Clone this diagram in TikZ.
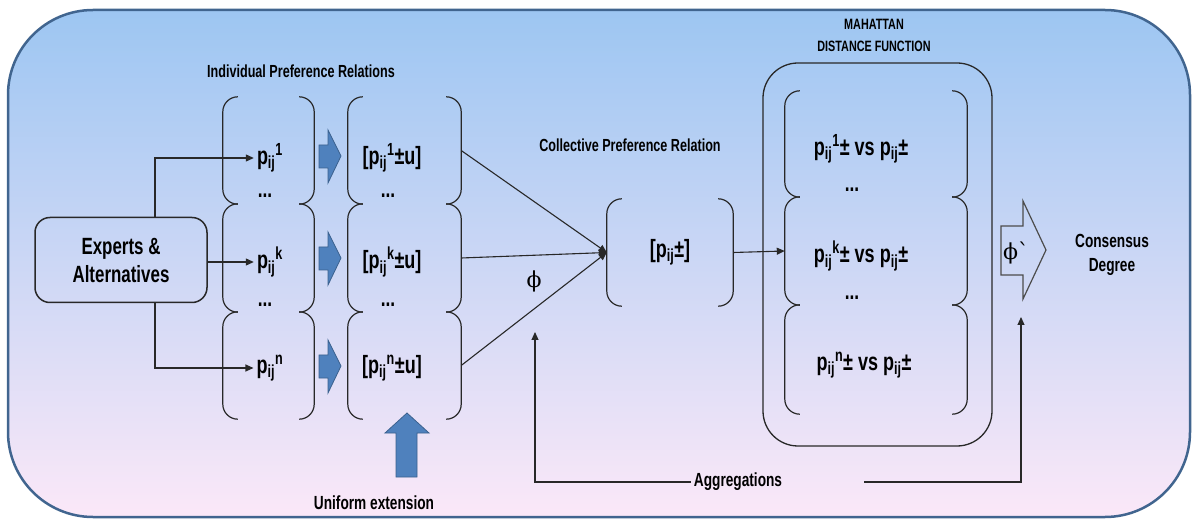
\documentclass[tikz,border=0pt]{standalone}
\usepackage{fontspec}
\setmainfont{Liberation Sans}[FakeStretch=0.72]
\newfontfamily\phifont{DejaVu Serif}
\usepackage{tikz}
\usetikzlibrary{arrows.meta,positioning}
\definecolor{cdTop}{RGB}{157,198,242}
\definecolor{cdBottom}{RGB}{251,232,248}
\definecolor{cdFrame}{RGB}{65,101,143}
\definecolor{cdBlock}{RGB}{79,129,189}
\definecolor{cdLine}{RGB}{40,40,40}
\newcommand{\pij}[1]{p\textsubscript{ij}\textsuperscript{#1}}

\begin{document}
\begin{tikzpicture}[
    x=1pt, y=-1pt,
    every node/.style={font=\bfseries, text=black},
    caption/.style={font=\bfseries\fontsize{17.5}{22}\selectfont, align=center, inner sep=2pt},
    label/.style={font=\bfseries\fontsize{19}{24}\selectfont, align=center, inner sep=3pt},
    term/.style={font=\bfseries\fontsize{25}{28}\selectfont, inner sep=3pt},
    dots/.style={font=\bfseries\fontsize{24}{26}\selectfont, inner sep=1pt},
    phisym/.style={font=\phifont\fontsize{22}{24}\selectfont, inner sep=2pt},
    seg/.style 2 args={rectangle, inner sep=0pt, minimum width=#1, minimum height=#2},
    brace/.style={draw=cdLine, line width=1.2pt, rounded corners=15pt},
    source/.style={
        rectangle, rounded corners=15pt,
        draw=cdLine, line width=1.5pt,
        align=center, font=\bfseries\fontsize{23.5}{28}\selectfont,
        minimum width=172pt, minimum height=85pt
    },
    frame/.style={
        rectangle, rounded corners=35pt,
        draw=cdLine, line width=1.3pt,
        minimum width=229pt, minimum height=383pt
    },
    conn/.style={-{Triangle[length=8pt,width=7pt]}, line width=1.1pt, draw=cdLine},
    block/.style={fill=cdBlock, draw=cdBlock!75!black, line width=0.8pt},
    hollow/.style={draw=black!70, line width=1.2pt}
]
    \useasboundingbox (0,0) rectangle (1197,521);

    % Background frame
    \draw[draw=cdFrame, line width=2.5pt, top color=cdTop, bottom color=cdBottom, rounded corners=85pt] (8,10) rectangle (1190,517);

    % Source
    \node[source] (exp) at (121,260) {Experts \&\\Alternatives};

    % Individual preference relations (two columns)
    \node[caption] (ipr) at (301,71) {Individual Preference Relations};
    \node[seg={91pt}{107pt}] (a1) at (268.5,150.5) {};
    \node[seg={91pt}{108pt}] (ak) at (268.5,258) {};
    \node[seg={91pt}{107pt}] (an) at (268.5,365.5) {};
    \node[seg={113pt}{107pt}] (b1) at (404.5,150.5) {};
    \node[seg={113pt}{108pt}] (bk) at (404.5,258) {};
    \node[seg={113pt}{107pt}] (bn) at (404.5,365.5) {};

    \node[term] (p1) at (270,158) {\pij{1}};
    \node[dots] (d1) at (265,196) {...};
    \node[term] (pk) at (270,262) {\pij{k}};
    \node[dots] (dk) at (265,305) {...};
    \node[term] (pn) at (270,368) {\pij{n}};

    \node[term] (q1) at (392,158) {[\pij{1}±u]};
    \node[dots] (e1) at (388,196) {...};
    \node[term] (qk) at (392,262) {[\pij{k}±u]};
    \node[dots] (ek) at (388,305) {...};
    \node[term] (qn) at (392,368) {[\pij{n}±u]};

    % Block arrows between the columns
    \foreach \y in {156,258,366}
        \draw[block] (319,\y-11) -- (328,\y-11) -- (328,\y-26) -- (341,\y) -- (328,\y+27) -- (328,\y+12) -- (319,\y+12) -- cycle;

    % Uniform extension
    \draw[block] (396,477) -- (396,433) -- (385,433) -- (407,413) -- (429,433) -- (417,433) -- (417,477) -- cycle;
    \node[label] (uext) at (374,503) {Uniform extension};

    % Collective preference relation
    \node[caption] (cprt) at (630,145) {Collective Preference Relation};
    \node[seg={126pt}{107pt}, font=\bfseries\fontsize{25}{28}\selectfont] (cpr) at (670,252.5) {[p\textsubscript{ij}±]};
    \node[phisym] (phi) at (534,281) {ϕ};

    % Mahattan distance function
    \node[caption, font=\bfseries\fontsize{15}{22}\selectfont] (mdft) at (874,35) {MAHATTAN\\DISTANCE FUNCTION};
    \node[frame] (mdf) at (877.5,254.5) {};
    \node[seg={182pt}{106pt}] (m1) at (876,144) {};
    \node[seg={182pt}{108pt}] (mk) at (876,251) {};
    \node[seg={182pt}{109pt}] (mn) at (876,359.5) {};
    \node[term] (mt1) at (861,149) {\pij{1}± vs p\textsubscript{ij}±};
    \node[dots] (md1) at (852,190) {...};
    \node[term] (mtk) at (861,256) {\pij{k}± vs p\textsubscript{ij}±};
    \node[dots] (mdk) at (852,298) {...};
    \node[term] (mtn) at (864,365) {\pij{n}± vs p\textsubscript{ij}±};

    % Bracket sides of every relation
    \foreach \s in {a1,ak,an,b1,bk,bn,cpr,m1,mk,mn}{
        \draw[brace] ([xshift=15pt]\s.north west) -| (\s.west) |- ([xshift=15pt]\s.south west);
        \draw[brace] ([xshift=-15pt]\s.north east) -| (\s.east) |- ([xshift=-15pt]\s.south east);
    }

    % Consensus degree
    \draw[hollow] (1001,226) -- (1023,226) -- (1023,201) -- (1046,250) -- (1023,299) -- (1023,275) -- (1001,275) -- cycle;
    \node[phisym] (phib) at (1016,253) {ϕ\textasciigrave};
    \node[label] (cdeg) at (1112,255) {Consensus\\Degree};

    % Aggregations
    \node[label] (agg) at (738,482) {Aggregations};
    \coordinate (aggL) at (535,332);
    \coordinate (aggR) at (1021,317);

    % Connectors
    \draw[conn] ([xshift=34pt]exp.north) |- (p1);
    \draw[conn] (exp.east |- pk) -- (pk);
    \draw[conn] ([xshift=34pt]exp.south) |- (pn);

    \draw[conn] (b1.east) -- (cpr.west);
    \draw[conn] (bk.east) -- (cpr.west);
    \draw[conn] (bn.east) -- (cpr.west);
    \draw[conn] (cpr.east) -- (mk.west);

    \draw[conn] (agg.west) -| (aggL);
    \draw[conn] ([xshift=79pt]agg.east) -| (aggR);

\end{tikzpicture}
\end{document}
